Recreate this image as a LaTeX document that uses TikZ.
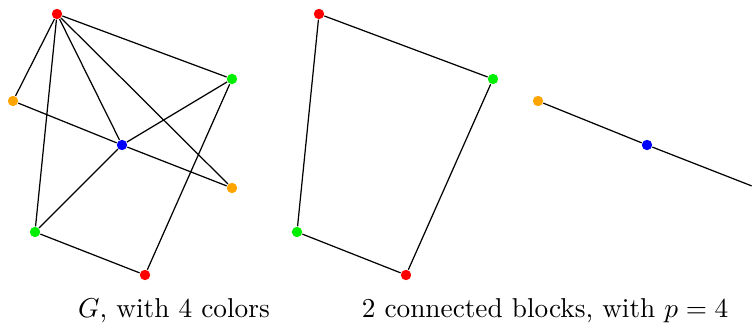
\documentclass[tikz,border=0pt]{standalone}
\definecolor{cred}{RGB}{255,0,0}
\definecolor{cgreen}{RGB}{0,238,0}
\definecolor{cblue}{RGB}{0,0,255}
\definecolor{corange}{RGB}{255,165,0}
\tikzset{
  vtx/.style={circle, inner sep=0pt, minimum size=3.8pt},
  vr/.style={vtx, fill=cred},
  vg/.style={vtx, fill=cgreen},
  vb/.style={vtx, fill=cblue},
  vo/.style={vtx, fill=corange},
  edge/.style={draw=black, line width=0.45pt},
  lbl/.style={inner sep=0pt, anchor=base}
}
\begin{document}
\begin{tikzpicture}[x=0.3663pt, y=-0.3663pt]
\useasboundingbox (0,0) rectangle (752,323);
% graph G
\node[vr] (a) at (57,14) {};
\node[vo] (b) at (13,101) {};
\node[vg] (c) at (232,79) {};
\node[vb] (d) at (122,145) {};
\node[vo] (e) at (232,188) {};
\node[vg] (f) at (35,232) {};
\node[vr] (h) at (145,275) {};
\draw[edge] (a) -- (b) (a) -- (f) (a) -- (d) (a) -- (e) (a) -- (c)
  (b) -- (d) (d) -- (e) (c) -- (d) (d) -- (f) (c) -- (h) (f) -- (h);
% block 1
\node[vr] (a2) at (319,14) {};
\node[vg] (c2) at (493,79) {};
\node[vg] (f2) at (297,232) {};
\node[vr] (h2) at (406,275) {};
\draw[edge] (a2) -- (c2) (a2) -- (f2) (f2) -- (h2) (h2) -- (c2);
% block 2
\node[vo] (b3) at (538,101) {};
\node[vb] (d3) at (647,145) {};
\node[vo] (e3) at (757,188) {};
\draw[edge] (b3) -- (d3) (d3) -- (e3);
% labels
\node[lbl] (l1) at (174,318) {$G$, with 4 colors};
\node[lbl] (l2) at (545,318) {2 connected blocks, with $p=4$};
\end{tikzpicture}
\end{document}
